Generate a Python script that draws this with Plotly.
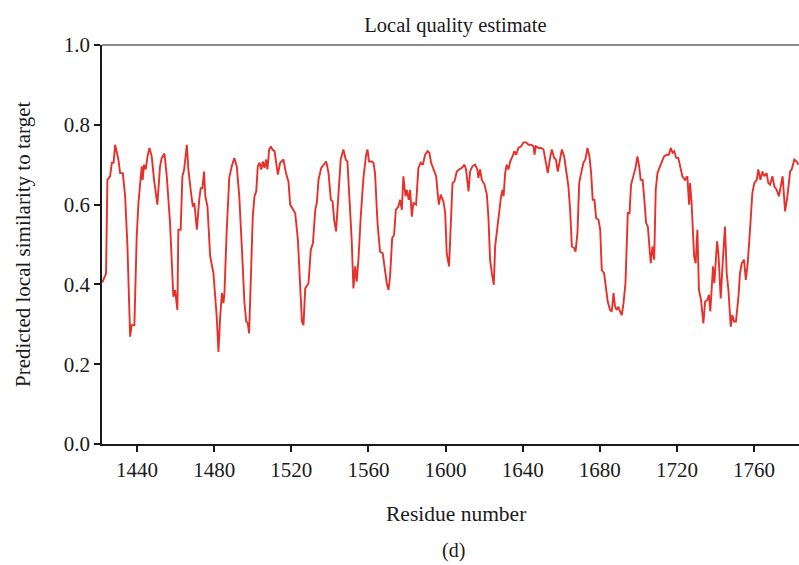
import plotly.graph_objects as go

residue = [
    1422.0, 1423.9, 1424.6, 1426.0, 1426.9, 1427.8, 1428.6, 1429.4, 1430.3, 1431.2, 1432.6, 1433.8, 1435.0,
    1436.4, 1437.2, 1438.6, 1439.8, 1440.7, 1441.9, 1442.4, 1442.9, 1443.6, 1444.5, 1445.4, 1446.4, 1447.6,
    1448.8, 1450.5, 1451.9, 1452.8, 1454.2, 1455.4, 1457.1, 1458.0, 1458.8, 1459.7, 1460.9, 1461.4, 1462.6,
    1463.5, 1464.4, 1465.8, 1466.6, 1467.8, 1468.9, 1469.7, 1471.0, 1472.2, 1473.0, 1473.9, 1474.7, 1475.4,
    1476.5, 1477.9, 1479.6, 1481.3, 1482.2, 1483.1, 1484.0, 1484.8, 1485.3, 1486.5, 1487.8, 1489.1, 1490.4,
    1491.7, 1493.0, 1494.3, 1495.7, 1496.6, 1497.4, 1498.1, 1499.2, 1500.0, 1500.9, 1501.8, 1502.6, 1503.5,
    1504.4, 1505.2, 1506.1, 1506.9, 1507.6, 1508.5, 1509.4, 1510.2, 1511.3, 1512.5, 1513.0, 1514.2, 1515.9,
    1517.2, 1518.5, 1519.4, 1520.6, 1522.0, 1523.4, 1524.6, 1525.5, 1526.3, 1527.2, 1528.9, 1530.1, 1531.2,
    1532.4, 1533.2, 1534.1, 1535.5, 1536.7, 1538.1, 1539.3, 1540.5, 1541.4, 1542.2, 1543.2, 1544.4, 1545.6,
    1547.0, 1548.2, 1549.1, 1550.1, 1551.3, 1552.2, 1553.1, 1553.9, 1554.8, 1556.0, 1557.4, 1558.8, 1559.5,
    1560.3, 1561.7, 1562.6, 1563.4, 1564.7, 1566.0, 1567.4, 1568.6, 1569.5, 1570.4, 1571.2, 1572.3, 1573.3,
    1574.2, 1575.5, 1576.4, 1577.3, 1578.1, 1579.2, 1579.9, 1580.9, 1581.6, 1582.5, 1583.3, 1584.7, 1585.9,
    1587.1, 1588.2, 1589.4, 1590.6, 1591.6, 1592.5, 1594.0, 1595.1, 1595.9, 1596.5, 1597.5, 1598.9, 1599.8,
    1600.6, 1601.8, 1602.9, 1603.6, 1604.6, 1605.8, 1607.0, 1608.4, 1609.8, 1610.6, 1611.9, 1612.7, 1613.9,
    1615.3, 1616.5, 1617.0, 1617.9, 1618.8, 1620.2, 1621.4, 1622.2, 1623.1, 1624.0, 1625.0, 1625.7, 1626.5,
    1627.8, 1628.8, 1629.5, 1630.1, 1630.9, 1631.7, 1632.6, 1633.5, 1634.7, 1635.7, 1636.6, 1637.8, 1639.2,
    1640.4, 1641.8, 1643.0, 1644.4, 1645.6, 1646.1, 1646.8, 1648.2, 1649.5, 1650.8, 1651.6, 1653.0, 1654.2,
    1655.1, 1656.3, 1657.2, 1658.2, 1659.4, 1660.3, 1661.5, 1662.5, 1663.7, 1664.6, 1665.5, 1666.7, 1667.4,
    1668.4, 1669.3, 1670.3, 1671.5, 1672.5, 1673.6, 1674.6, 1675.5, 1676.3, 1677.2, 1678.1, 1679.3, 1680.2,
    1681.0, 1682.2, 1683.1, 1684.1, 1685.3, 1686.2, 1687.1, 1687.9, 1688.8, 1689.6, 1690.5, 1691.4, 1692.3,
    1693.3, 1694.5, 1695.4, 1696.2, 1697.4, 1698.5, 1699.5, 1700.4, 1701.2, 1702.2, 1703.1, 1704.0, 1704.9,
    1705.7, 1706.4, 1707.3, 1708.2, 1709.0, 1709.9, 1710.9, 1712.1, 1713.3, 1714.7, 1715.8, 1716.8, 1717.7,
    1718.6, 1719.6, 1720.7, 1721.6, 1722.8, 1724.2, 1725.4, 1726.3, 1726.8, 1727.6, 1728.2, 1728.9, 1729.7,
    1730.6, 1731.4, 1732.5, 1733.7, 1734.6, 1735.8, 1736.6, 1737.3, 1738.0, 1738.7, 1739.4, 1740.1, 1740.8,
    1741.5, 1742.7, 1743.7, 1744.9, 1745.8, 1746.7, 1747.9, 1748.7, 1749.6, 1750.6, 1751.9, 1752.7, 1753.6,
    1754.8, 1755.7, 1756.7, 1757.9, 1759.1, 1760.1, 1761.4, 1762.2, 1763.3, 1764.3, 1765.3, 1766.5, 1767.4,
    1768.3, 1769.5, 1770.5, 1771.7, 1772.9, 1774.0, 1774.8, 1776.1, 1777.3, 1778.7, 1779.5, 1780.9, 1782.1,
    1783.0,
]

similarity = [
    0.405, 0.428, 0.662, 0.671, 0.705, 0.705, 0.750, 0.730, 0.713, 0.679, 0.679, 0.621, 0.495,
    0.269, 0.298, 0.298, 0.520, 0.604, 0.662, 0.696, 0.662, 0.700, 0.688, 0.721, 0.742, 0.721,
    0.662, 0.600, 0.696, 0.717, 0.728, 0.671, 0.554, 0.470, 0.369, 0.386, 0.336, 0.537, 0.537,
    0.671, 0.688, 0.750, 0.688, 0.637, 0.595, 0.604, 0.537, 0.612, 0.641, 0.641, 0.683, 0.621,
    0.595, 0.470, 0.428, 0.319, 0.231, 0.319, 0.378, 0.353, 0.378, 0.537, 0.667, 0.696, 0.717,
    0.696, 0.621, 0.495, 0.353, 0.307, 0.303, 0.277, 0.453, 0.570, 0.621, 0.633, 0.696, 0.705,
    0.688, 0.708, 0.692, 0.713, 0.688, 0.738, 0.746, 0.738, 0.734, 0.696, 0.675, 0.705, 0.713,
    0.679, 0.658, 0.600, 0.591, 0.579, 0.512, 0.395, 0.307, 0.298, 0.390, 0.403, 0.487, 0.503,
    0.587, 0.604, 0.662, 0.692, 0.700, 0.708, 0.679, 0.612, 0.608, 0.562, 0.533, 0.629, 0.713,
    0.738, 0.713, 0.708, 0.621, 0.512, 0.390, 0.445, 0.407, 0.462, 0.570, 0.667, 0.725, 0.738,
    0.708, 0.708, 0.705, 0.679, 0.554, 0.482, 0.478, 0.436, 0.403, 0.386, 0.420, 0.516, 0.524,
    0.587, 0.595, 0.612, 0.587, 0.671, 0.621, 0.637, 0.612, 0.637, 0.570, 0.604, 0.600, 0.692,
    0.705, 0.700, 0.725, 0.734, 0.730, 0.705, 0.688, 0.671, 0.629, 0.600, 0.625, 0.608, 0.579,
    0.478, 0.445, 0.570, 0.654, 0.658, 0.683, 0.688, 0.692, 0.700, 0.688, 0.633, 0.683, 0.696,
    0.700, 0.688, 0.667, 0.688, 0.662, 0.650, 0.625, 0.570, 0.461, 0.428, 0.399, 0.495, 0.529,
    0.570, 0.621, 0.637, 0.621, 0.679, 0.700, 0.688, 0.708, 0.721, 0.734, 0.725, 0.742, 0.746,
    0.756, 0.756, 0.750, 0.750, 0.746, 0.725, 0.746, 0.742, 0.742, 0.738, 0.713, 0.679, 0.717,
    0.738, 0.717, 0.713, 0.683, 0.721, 0.738, 0.721, 0.688, 0.646, 0.587, 0.495, 0.491, 0.482,
    0.529, 0.654, 0.679, 0.705, 0.713, 0.742, 0.721, 0.679, 0.612, 0.612, 0.566, 0.562, 0.537,
    0.436, 0.428, 0.386, 0.357, 0.336, 0.332, 0.378, 0.344, 0.336, 0.344, 0.332, 0.323, 0.353,
    0.403, 0.579, 0.579, 0.650, 0.671, 0.692, 0.721, 0.696, 0.662, 0.662, 0.612, 0.554, 0.545,
    0.487, 0.453, 0.495, 0.462, 0.637, 0.679, 0.692, 0.705, 0.721, 0.725, 0.725, 0.742, 0.730,
    0.734, 0.717, 0.717, 0.696, 0.671, 0.662, 0.671, 0.600, 0.654, 0.604, 0.537, 0.470, 0.453,
    0.537, 0.386, 0.361, 0.302, 0.357, 0.361, 0.374, 0.332, 0.394, 0.445, 0.403, 0.453, 0.508,
    0.478, 0.365, 0.453, 0.545, 0.428, 0.386, 0.294, 0.323, 0.307, 0.307, 0.369, 0.428, 0.453,
    0.462, 0.411, 0.453, 0.537, 0.629, 0.654, 0.662, 0.688, 0.662, 0.683, 0.671, 0.679, 0.654,
    0.650, 0.671, 0.646, 0.637, 0.621, 0.654, 0.671, 0.583, 0.621, 0.683, 0.688, 0.713, 0.708,
    0.700,
]

x_ticks = [1440, 1480, 1520, 1560, 1600, 1640, 1680, 1720, 1760]
y_ticks = [0.0, 0.2, 0.4, 0.6, 0.8, 1.0]

FONT = "Liberation Serif"
INK = "#1a1a1a"

fig = go.Figure()
fig.add_trace(go.Scatter(
    x=residue, y=similarity, mode="lines",
    line=dict(color="#e8302a", width=1.9),
    showlegend=False, hoverinfo="skip",
))

fig.update_layout(
    width=799, height=565,
    margin=dict(l=102, r=0, t=45, b=121),
    paper_bgcolor="white", plot_bgcolor="white",
    font=dict(family=FONT, size=20, color=INK),
    title=dict(text="Local quality estimate", x=0.57, xanchor="center",
               y=1 - 25 / 565, yanchor="middle", yref="container",
               font=dict(family=FONT, size=20.5, color=INK)),
    annotations=[
        dict(text="Residue number", xref="paper", yref="paper", x=0.508, y=-0.176,
             showarrow=False, xanchor="center", yanchor="middle",
             font=dict(family=FONT, size=21.5, color=INK)),
        dict(text="(d)", xref="paper", yref="paper", x=0.504, y=-0.267,
             showarrow=False, xanchor="center", yanchor="middle",
             font=dict(family=FONT, size=20, color=INK)),
        dict(text="Predicted local similarity to target", xref="paper", yref="paper",
             x=-0.114, y=0.5, textangle=-90, showarrow=False,
             xanchor="center", yanchor="middle",
             font=dict(family=FONT, size=21, color=INK)),
    ],
)

fig.update_xaxes(
    range=[1421.8, 1783.3], tickvals=x_ticks, ticktext=[str(t) for t in x_ticks],
    ticks="outside", ticklen=6, tickwidth=1.5, tickcolor=INK,
    showline=True, linecolor=INK, linewidth=1.5, mirror=False,
    showgrid=False, zeroline=False, tickfont=dict(family=FONT, size=21, color=INK),
)
fig.update_yaxes(
    range=[0, 1.0], tickvals=y_ticks, ticktext=[f"{t:.1f}" for t in y_ticks],
    ticks="outside", ticklen=6, tickwidth=1.5, tickcolor=INK,
    showline=True, linecolor=INK, linewidth=1.5, mirror=False,
    showgrid=False, zeroline=False, tickfont=dict(family=FONT, size=21, color=INK),
)
# top border line
fig.add_shape(type="line", xref="paper", yref="paper", x0=0, x1=1, y0=1, y1=1,
              line=dict(color=INK, width=1.2))

fig.write_html("out.html")
